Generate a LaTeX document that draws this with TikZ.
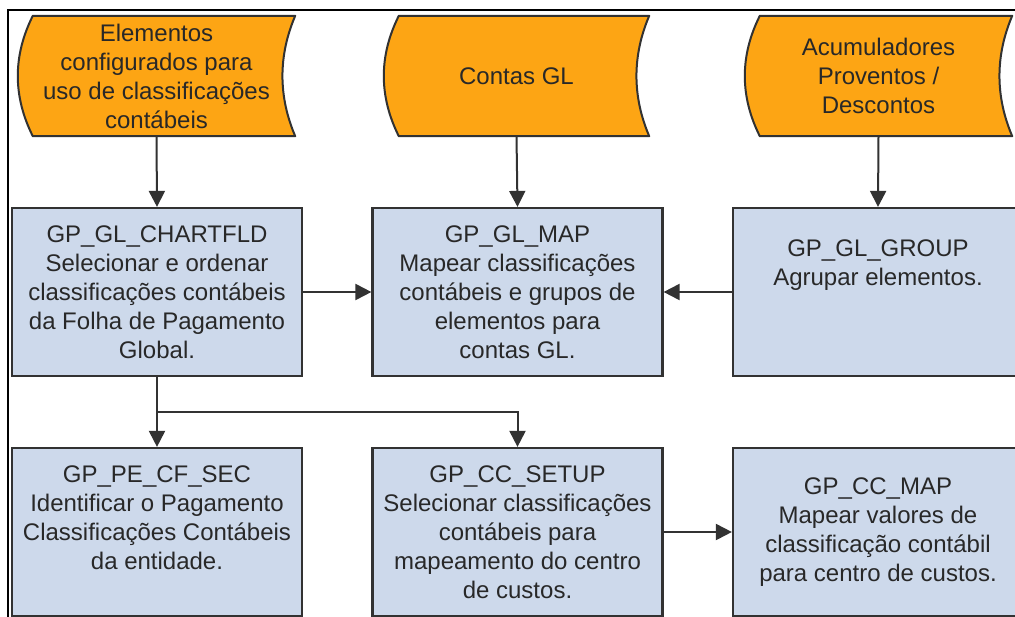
\documentclass[tikz,border=0pt]{standalone}
\usepackage{fontspec}
\setmainfont{Liberation Sans}
\usetikzlibrary{arrows.meta,backgrounds,calc}
\definecolor{docorange}{RGB}{253,165,20}
\definecolor{boxblue}{RGB}{205,217,235}
\definecolor{linegray}{RGB}{50,50,50}
\definecolor{textgray}{RGB}{40,40,40}
\newcommand\mydocpath[1]{%
  \path[docshape] ([xshift=15pt]#1.north west) -- (#1.north east)
    .. controls ([xshift=-17pt,yshift=-40pt]#1.north east) and ([xshift=-17pt,yshift=40pt]#1.south east) .. (#1.south east)
    -- ([xshift=15pt]#1.south west)
    .. controls ([xshift=-5pt,yshift=40pt]#1.south west) and ([xshift=-5pt,yshift=-40pt]#1.north west) .. ([xshift=15pt]#1.north west)
    -- cycle;}
\tikzset{
  docshape/.style={fill=docorange, draw=linegray, line width=2pt, line join=round},
  doctext/.style={inner sep=0pt, minimum height=120pt, align=center, text=textgray,
    font=\fontsize{24}{29}\selectfont},
  procbox/.style={draw=linegray, fill=boxblue, line width=2.2pt, inner sep=0pt,
    minimum width=290pt, minimum height=168pt, align=center, text=textgray,
    font=\fontsize{24}{29}\selectfont},
  conn/.style={draw=linegray, line width=2pt, -{Triangle[length=16pt,width=16pt]}},
  frameline/.style={draw=black, line width=2.5pt}
}
\begin{document}
\begin{tikzpicture}[x=1pt,y=-1pt]
\useasboundingbox (0,0) rectangle (1015,616);
\clip (0,0) rectangle (1015,616);

% orange input shapes
\node[doctext, minimum width=277pt] (s1) at (156.5,76) {Elementos\\configurados para\\uso de classificações\\contábeis};
\node[doctext, minimum width=265pt] (s2) at (516.5,76) {Contas GL};
\node[doctext, minimum width=267pt] (s3) at (878.5,76) {Acumuladores\\Proventos /\\Descontos};
\begin{scope}[on background layer]
  \fill[white] (0,0) rectangle (1015,616);
  \draw[frameline] (8,10) rectangle (1040,640);
  \mydocpath{s1}
  \mydocpath{s2}
  \mydocpath{s3}
\end{scope}

% process boxes
\node[procbox] (b1) at (157,292) {GP\_GL\_CHARTFLD\\Selecionar e ordenar\\classificações contábeis\\da Folha de Pagamento\\Global.};
\node[procbox] (b2) at (517.5,292) {GP\_GL\_MAP\\Mapear classificações\\contábeis e grupos de\\elementos para\\contas GL.};
\node[procbox] (b3) at (878,292) {GP\_GL\_GROUP\\Agrupar elementos.\\\mbox{}\\\mbox{}};
\node[procbox] (c1) at (157,532) {GP\_PE\_CF\_SEC\\Identificar o Pagamento\\Classificações Contábeis\\da entidade.\\\mbox{}};
\node[procbox] (c2) at (517.5,532) {GP\_CC\_SETUP\\Selecionar classificações\\contábeis para\\mapeamento do centro\\de custos.};
\node[procbox] (c3) at (878,532) {GP\_CC\_MAP\\Mapear valores de\\classificação contábil\\para centro de custos.};

% connectors
\draw[conn] (s1.south) -- (b1.north);
\draw[conn] (s2.south) -- (b2.north);
\draw[conn] (s3.south) -- (b3.north);
\draw[conn] (b1.east) -- (b2.west);
\draw[conn] (b3.west) -- (b2.east);
\draw[conn] (b1.south) -- (c1.north);
\coordinate (j) at (157,412);
\draw[conn] (j) -| (c2.north);
\draw[conn] (c2.east) -- (c3.west);
\end{tikzpicture}
\end{document}
